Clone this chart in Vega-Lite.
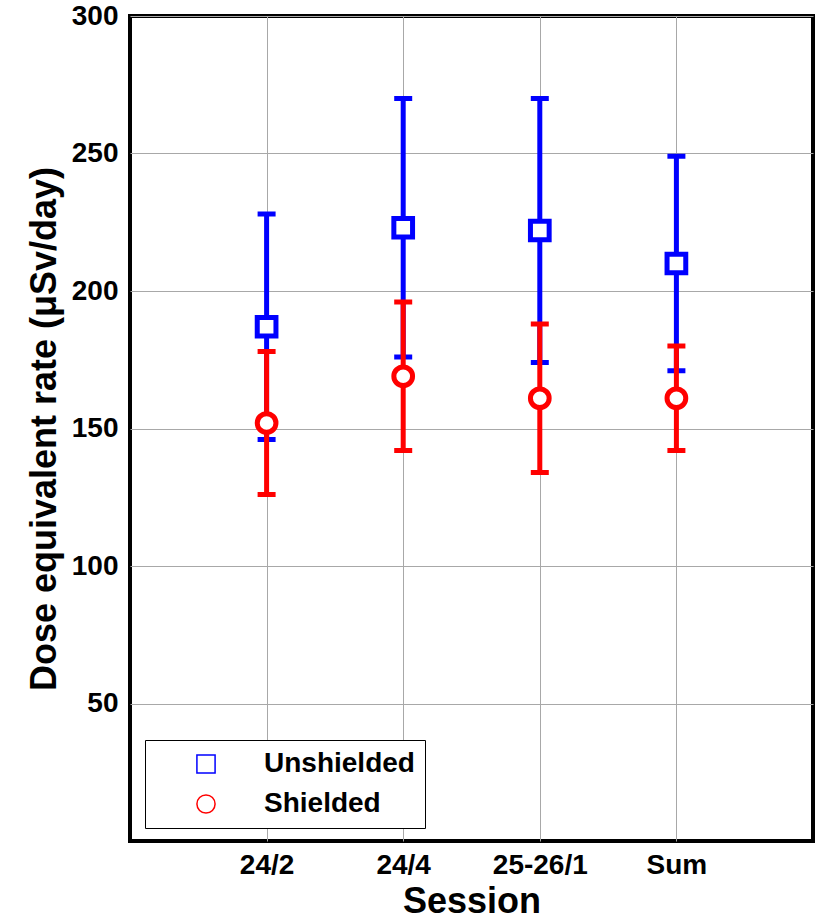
{
  "$schema": "https://vega.github.io/schema/vega-lite/v6.json",
  "autosize": "none",
  "width": 683,
  "height": 825,
  "padding": {"left": 130, "top": 16, "right": 6, "bottom": 78},
  "background": "white",
  "config": {
    "font": "Liberation Sans",
    "view": {"stroke": "black", "strokeWidth": 4},
    "axis": {
      "domain": false,
      "ticks": false,
      "grid": true,
      "gridColor": "#a8a8a8",
      "gridWidth": 1,
      "labelFont": "Liberation Sans",
      "labelFontSize": 28,
      "labelFontWeight": "bold",
      "labelColor": "black",
      "titleFont": "Liberation Sans",
      "titleFontSize": 36,
      "titleFontWeight": "bold",
      "titleColor": "black"
    }
  },
  "data": {
    "values": [
      {"pos": 1, "session": "24/2", "series": "Unshielded", "mean": 187, "lo": 146, "hi": 228},
      {"pos": 2, "session": "24/4", "series": "Unshielded", "mean": 223, "lo": 176, "hi": 270},
      {"pos": 3, "session": "25-26/1", "series": "Unshielded", "mean": 222, "lo": 174, "hi": 270},
      {"pos": 4, "session": "Sum", "series": "Unshielded", "mean": 210, "lo": 171, "hi": 249},
      {"pos": 1, "session": "24/2", "series": "Shielded", "mean": 152, "lo": 126, "hi": 178},
      {"pos": 2, "session": "24/4", "series": "Shielded", "mean": 169, "lo": 142, "hi": 196},
      {"pos": 3, "session": "25-26/1", "series": "Shielded", "mean": 161, "lo": 134, "hi": 188},
      {"pos": 4, "session": "Sum", "series": "Shielded", "mean": 161, "lo": 142, "hi": 180}
    ]
  },
  "encoding": {
    "x": {
      "field": "pos",
      "type": "quantitative",
      "scale": {"domain": [0, 5], "nice": false, "zero": false},
      "axis": {
        "values": [1, 2, 3, 4],
        "labelExpr": "datum.value == 1 ? '24/2' : datum.value == 2 ? '24/4' : datum.value == 3 ? '25-26/1' : 'Sum'",
        "labelPadding": 10,
        "title": "Session",
        "titlePadding": 5
      }
    }
  },
  "layer": [
    {
      "transform": [{"filter": "datum.series == 'Unshielded'"}],
      "mark": {"type": "errorbar", "color": "#0000ff", "ticks": {"size": 18, "thickness": 5, "opacity": 1}, "rule": {"strokeWidth": 5, "opacity": 1}},
      "encoding": {
        "y": {
          "field": "lo",
          "type": "quantitative",
          "title": "Dose equivalent rate (μSv/day)",
          "scale": {"domain": [0, 300], "nice": false},
          "axis": {
            "values": [50, 100, 150, 200, 250, 300],
            "labelPadding": 12,
            "titlePadding": 8
          }
        },
        "y2": {"field": "hi"}
      }
    },
    {
      "transform": [{"filter": "datum.series == 'Shielded'"}],
      "mark": {"type": "errorbar", "color": "#ff0000", "ticks": {"size": 18, "thickness": 5, "opacity": 1}, "rule": {"strokeWidth": 5, "opacity": 1}},
      "encoding": {
        "y": {"field": "lo", "type": "quantitative", "title": "Dose equivalent rate (μSv/day)"},
        "y2": {"field": "hi"}
      }
    },
    {
      "mark": {"type": "point", "filled": false, "fill": "white", "fillOpacity": 1, "strokeWidth": 5, "opacity": 1, "size": 350},
      "encoding": {
        "y": {"field": "mean", "type": "quantitative", "title": "Dose equivalent rate (μSv/day)"},
        "stroke": {
          "field": "series",
          "type": "nominal",
          "scale": {"domain": ["Unshielded", "Shielded"], "range": ["#0000ff", "#ff0000"]},
          "legend": {
            "title": null,
            "orient": "none",
            "legendX": 15,
            "legendY": 724,
            "padding": 10,
            "strokeColor": "black",
            "fillColor": "white",
            "symbolOffset": 37,
            "labelOffset": 44,
            "rowPadding": 12,
            "labelFontSize": 28,
            "labelFontWeight": "bold",
            "labelFont": "Liberation Sans",
            "labelColor": "black",
            "symbolSize": 330,
            "symbolStrokeWidth": 1.5,
            "symbolFillColor": "white"
          }
        },
        "shape": {
          "field": "series",
          "type": "nominal",
          "scale": {"domain": ["Unshielded", "Shielded"], "range": ["square", "circle"]}
        }
      }
    }
  ]
}
